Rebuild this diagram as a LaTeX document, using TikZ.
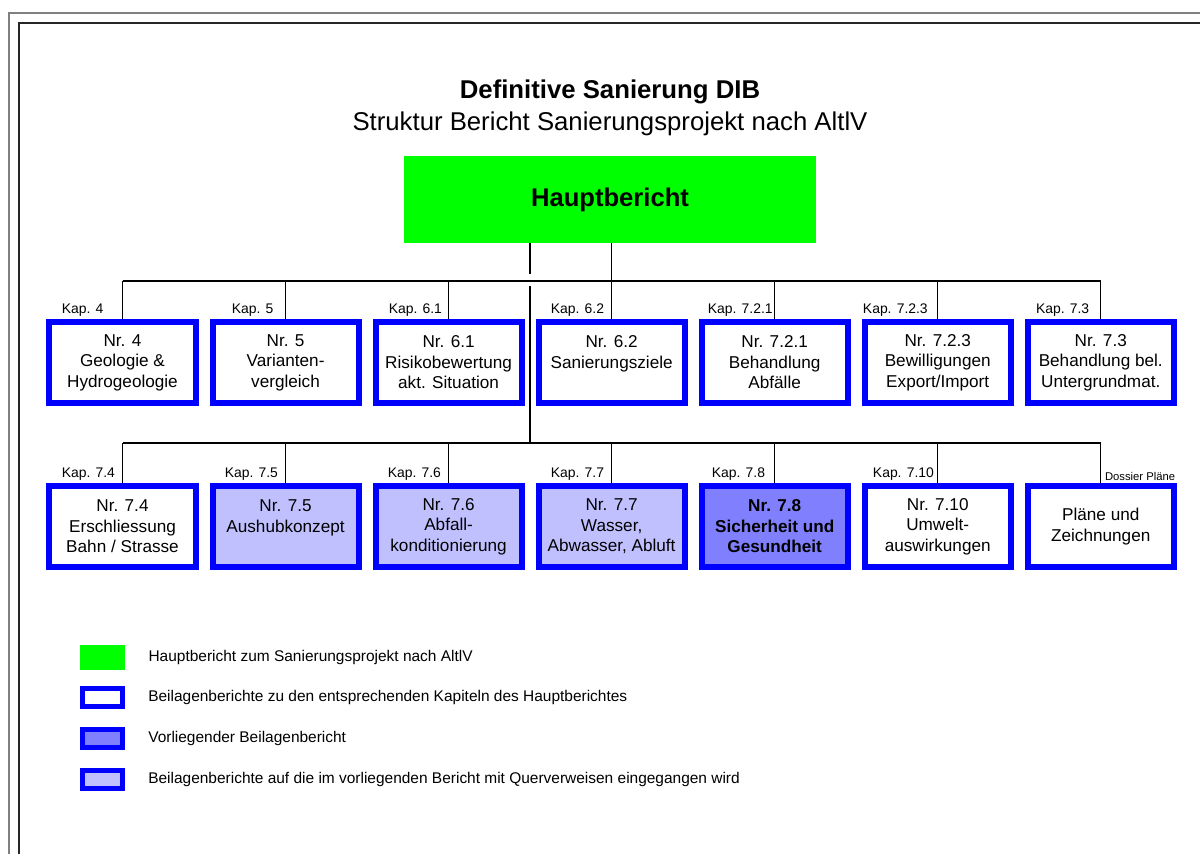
\documentclass[tikz,border=0pt]{standalone}
\usepackage{fontspec}
\setmainfont{Liberation Sans}
\usetikzlibrary{positioning, calc}
\definecolor{hauptGreen}{RGB}{0, 255, 0}
\definecolor{reportBlue}{RGB}{0, 0, 255}
\definecolor{refLight}{RGB}{192, 192, 255}
\definecolor{refDark}{RGB}{128, 128, 255}
\definecolor{frameGray}{RGB}{128, 128, 128}

\begin{document}
\begin{tikzpicture}[
    x=0.025cm, y=-0.025cm,
    node distance=0.275cm,
    % Styles
    report/.style={
        draw=reportBlue, line width=0.15cm, fill=white, align=center, inner sep=0pt,
        minimum width=3.65cm, minimum height=2.025cm, font=\fontsize{12.2}{14.6}\selectfont
    },
    crossref/.style={report, fill=refLight},
    current/.style={report, fill=refDark, font=\fontsize{12.2}{14.6}\selectfont\bfseries},
    kap/.style={anchor=south west, inner sep=0pt, font=\fontsize{9.9}{11}\selectfont},
    link/.style={line width=0.9pt},
    swatch/.style={
        draw=reportBlue, line width=0.125cm, minimum width=1cm, minimum height=0.45cm, inner sep=0pt
    },
    legendtext/.style={anchor=west, inner sep=0pt, font=\fontsize{11}{13}\selectfont}
]
    \useasboundingbox (0,0) rectangle (1200,854);

    % --- Frame ---
    \draw[frameGray, line width=1.4pt] (9,854) |- (1200,13);
    \draw[black!85, line width=1.4pt] (19,854) |- (1200,23);

    % --- Title ---
    \node (title) at (610,92) {\fontsize{18.3}{22}\selectfont\bfseries Definitive Sanierung DIB};
    \node (subtitle) at (610,124) {\fontsize{18.3}{22}\selectfont Struktur Bericht Sanierungsprojekt nach AltlV};

    % --- Main report ---
    \node[fill=hauptGreen, minimum width=10.3cm, minimum height=2.175cm, inner sep=0pt,
          font=\fontsize{18.2}{22}\selectfont\bfseries] (haupt) at (610,199.5) {Hauptbericht};

    % --- Row 1 ---
    \node[report] (k4) at (122.5,362.5) {Nr. 4\\Geologie \&\\Hydrogeologie};
    \node[report, right=of k4] (k5) {Nr. 5\\Varianten-\\vergleich};
    \node[report, right=of k5] (k61) {Nr. 6.1\\Risikobewertung\\akt. Situation};
    \node[report, right=of k61] (k62) {Nr. 6.2\\Sanierungsziele\\~};
    \node[report, right=of k62] (k721) {Nr. 7.2.1\\Behandlung\\Abfälle};
    \node[report, right=of k721] (k723) {Nr. 7.2.3\\Bewilligungen\\Export/Import};
    \node[report, right=of k723] (k73) {Nr. 7.3\\Behandlung bel.\\Untergrundmat.};

    % --- Row 2 ---
    \node[report, below=1.925cm of k4] (k74) {Nr. 7.4\\Erschliessung\\Bahn / Strasse};
    \node[crossref, right=of k74] (k75) {Nr. 7.5\\Aushubkonzept\\~};
    \node[crossref, right=of k75] (k76) {Nr. 7.6\\Abfall-\\konditionierung};
    \node[crossref, right=of k76] (k77) {Nr. 7.7\\Wasser,\\Abwasser, Abluft};
    \node[current, right=of k77] (k78) {Nr. 7.8\\Sicherheit und\\Gesundheit};
    \node[report, right=of k78] (k710) {Nr. 7.10\\Umwelt-\\auswirkungen};
    \node[report, right=of k710] (plaene) {Pläne und\\Zeichnungen};

    % --- Chapter labels ---
    \foreach \b/\t/\s in {k4/Kap. 4/15, k5/Kap. 5/22, k61/Kap. 6.1/16, k62/Kap. 6.2/15,
        k721/Kap. 7.2.1/9, k723/Kap. 7.2.3/1, k73/Kap. 7.3/11, k74/Kap. 7.4/15, k75/Kap. 7.5/15,
        k76/Kap. 7.6/15, k77/Kap. 7.7/15, k78/Kap. 7.8/13, k710/Kap. 7.10/11}
        \node[kap, xshift=\s*0.025cm] (kap-\b) at ([yshift=1.4pt]\b.north west) {\t};
    \node[kap, xshift=0.1cm, font=\fontsize{8}{9}\selectfont] (kap-plaene)
        at ([yshift=1.4pt]plaene.north) {Dossier Pläne};

    % --- Connections ---
    \coordinate (bus1) at (0,281);
    \coordinate (bus2) at (0,443);
    \coordinate (trunk) at ($(k61.east)!0.5!(k62.west)$);

    \draw[link] (haupt.south -| k62.north) -- (k62.north);
    \draw[link] (k4.north |- bus1) -- (k73.north |- bus1);
    \foreach \b in {k4, k5, k61, k721, k723, k73}
        \draw[link] (\b.north |- bus1) -- (\b.north);

    % trunk to row 2 jumps over the row 1 line
    \draw[link] (haupt.south -| trunk) -- ($(trunk |- bus1)+(0,-7)$);
    \draw[link] ($(trunk |- bus1)+(0,5)$) -- (trunk |- bus2);
    \draw[link] (k74.north |- bus2) -- (plaene.north |- bus2);
    \foreach \b in {k74, k75, k76, k77, k78, k710, plaene}
        \draw[link] (\b.north |- bus2) -- (\b.north);

    % --- Legend ---
    \node[fill=hauptGreen, minimum width=1.125cm, minimum height=0.625cm, inner sep=0pt] (lgHaupt) at (102.5,657.5) {};
    \node[swatch, fill=white] (lgBeilage) at (102.5,697.5) {};
    \node[swatch, fill=refDark] (lgCurrent) at (102.5,738) {};
    \node[swatch, fill=refLight] (lgCross) at (102.5,779) {};

    \node[legendtext, right=0.575cm of lgHaupt] (txHaupt) {Hauptbericht zum Sanierungsprojekt nach AltlV};
    \node[legendtext, right=0.575cm of lgBeilage] (txBeilage) {Beilagenberichte zu den entsprechenden Kapiteln des Hauptberichtes};
    \node[legendtext, right=0.575cm of lgCurrent] (txCurrent) {Vorliegender Beilagenbericht};
    \node[legendtext, right=0.575cm of lgCross] (txCross) {Beilagenberichte auf die im vorliegenden Bericht mit Querverweisen eingegangen wird};

\end{tikzpicture}
\end{document}
